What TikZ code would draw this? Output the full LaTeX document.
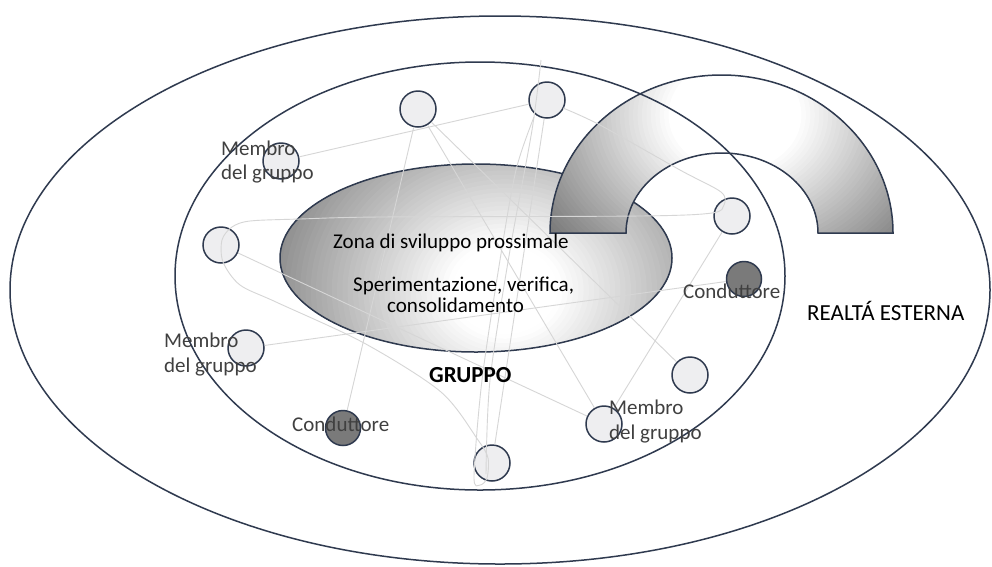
\documentclass[tikz,border=0pt]{standalone}
\usepackage{fontspec}
\setmainfont{Carlito}
\definecolor{outl}{RGB}{47,58,79}
\definecolor{cfill}{RGB}{238,238,240}
\definecolor{cdark}{RGB}{122,122,122}
\definecolor{netc}{RGB}{214,214,214}
\definecolor{lbl}{RGB}{64,64,64}
\begin{document}
\begin{tikzpicture}[x=1pt,y=-1pt,
  ring/.style={draw=outl, line width=1.5pt},
  member/.style={circle, draw=outl, line width=1.5pt, fill=cfill, minimum size=36pt, inner sep=0pt},
  leader/.style={member, fill=cdark, minimum size=35pt},
  net/.style={draw=netc, line width=0.9pt},
  lab/.style={text=lbl, font=\fontsize{21pt}{24pt}\selectfont, inner sep=0pt, anchor=base west},
  zt/.style={text=black, font=\fontsize{21pt}{24pt}\selectfont, inner sep=0pt, anchor=base west},
]
\fill[white] (0,0) rectangle (992,566);
\useasboundingbox (0,0) rectangle (992,566);

% zona di sviluppo prossimale
\path[ring, path picture={
  \foreach \i in {60,59,...,0}{
    \pgfmathsetmacro{\t}{1.4*\i/60}
    \pgfmathsetmacro{\g}{max(0,min(55,42*(\t-0.25)/0.75))}
    \fill[black!\g] (505,290) ellipse [x radius=225*\t, y radius=190*\t];
  }}] (476,258) ellipse [x radius=196, y radius=94];

% arch (realta esterna)
\path[ring, path picture={
  \foreach \i in {60,59,...,0}{
    \pgfmathsetmacro{\t}{1.4*\i/60}
    \pgfmathsetmacro{\g}{max(0,min(55,45*(\t-0.35)/0.75))}
    \fill[black!\g] (735,115) ellipse [x radius=190*\t, y radius=160*\t];
  }}] (550,233) arc[start angle=180, end angle=360, x radius=171.5, y radius=158]
  -- (818,233) arc[start angle=0, end angle=-180, x radius=96, y radius=80] -- cycle;

% group and outer ellipses
\draw[ring] (480,276) ellipse [x radius=305, y radius=214];
\draw[ring] (500,290) ellipse [x radius=490, y radius=274];

% members
\node[member] (c1) at (418,109) {};
\node[member] (c2) at (547,100) {};
\node[member] (c3) at (281,161) {};
\node[member] (c4) at (221,245) {};
\node[member] (c5) at (732,216) {};
\node[leader] (c6) at (744,279) {};
\node[member] (c7) at (246,348) {};
\node[member] (c8) at (690,375) {};
\node[member] (c9) at (604,424) {};
\node[leader] (c10) at (343,428) {};
\node[member] (c11) at (492,463) {};

% network
\draw[net] (c3) -- (c2);
\draw[net] (c1) -- (c9);
\draw[net] (c1) -- (c8);
\draw[net] (c10) -- (c1);
\draw[net] (c4) -- (c9);
\draw[net] (c7) -- (c6);
\draw[net] (c5) -- (c9);
\draw[net] (c11) -- (c2);
\draw[net] plot[smooth, tension=0.5] coordinates {(563,108) (600,125) (680,170) (721,192) (724,205) (712,213) (640,216) (380,217) (300,219) (250,221) (232,227) (222,240) (223,262) (240,285) (276,302) (364,343) (441,392) (478,440) (488,458) (487,478) (480,485) (474,476) (482,380) (500,260) (516,170) (534,117)};
\draw[net] plot[smooth, tension=0.5] coordinates {(486,474) (490,380) (510,250) (532,130) (541,60)};

% labels
\node[lab] (m1a) at (221,155) {Membro};
\node[lab] (m1b) at (221,179) {del gruppo};
\node[lab] (m2a) at (164,347) {Membro};
\node[lab] (m2b) at (164,372) {del gruppo};
\node[lab] (m3a) at (609,414) {Membro};
\node[lab] (m3b) at (609,439) {del gruppo};
\node[lab] (k1) at (683,298) {Conduttore};
\node[lab] (k2) at (292,431) {Conduttore};
\node[zt] (z1) at (333,248) {Zona di sviluppo prossimale};
\node[zt] (z2) at (353,291) {Sperimentazione, verifica,};
\node[zt] (z3) at (387,312) {consolidamento};
\node[zt, font=\fontsize{23pt}{26pt}\selectfont\bfseries] (g) at (429,382) {GRUPPO};
\node[zt, font=\fontsize{23pt}{26pt}\selectfont] (r) at (807,320) {REALTÁ ESTERNA};
\end{tikzpicture}
\end{document}
